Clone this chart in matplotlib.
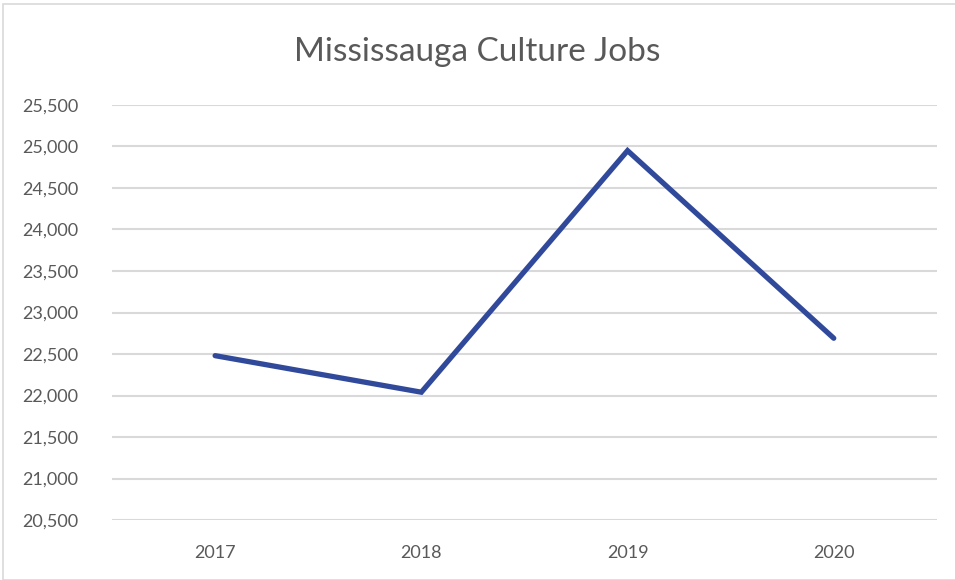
import matplotlib.pyplot as plt
from matplotlib.patches import Rectangle
from matplotlib.ticker import FuncFormatter

years = ["2017", "2018", "2019", "2020"]
jobs = [22480, 22040, 24950, 22690]
y_ticks = list(range(20500, 25501, 500))

plt.rcParams['font.family'] = ['Lato', 'DejaVu Sans']

fig = plt.figure(figsize=(9.55, 5.8), dpi=100)
fig.patches.append(Rectangle((0.003, 0.0), 1.2, 0.993, transform=fig.transFigure,
                             fill=False, edgecolor='#d9d9d9', linewidth=1.2))

ax = fig.add_axes([0.1173, 0.1034, 0.8637, 0.7156])
x = list(range(len(years)))
ax.plot(x, jobs, color='#30499b', linewidth=3.8, solid_capstyle='round',
        solid_joinstyle='miter', zorder=3)

ax.set_xlim(-0.5, len(years) - 0.5)
ax.set_ylim(y_ticks[0], y_ticks[-1])
ax.set_yticks(y_ticks)
ax.yaxis.set_major_formatter(FuncFormatter(lambda v, p: f"{int(v):,}"))
ax.set_xticks(x)
ax.set_xticklabels(years)
ax.grid(axis='y', color='#d9d9d9', linewidth=1.5)
ax.set_axisbelow(True)
for s in ax.spines.values():
    s.set_visible(False)
ax.tick_params(length=0, labelsize=13, labelcolor='#595959')
ax.tick_params(axis='y', pad=24)
ax.tick_params(axis='x', pad=18)

fig.text(0.5, 0.91, "Mississauga Culture Jobs", ha='center', va='center',
         fontsize=24, color='#595959')

fig.savefig("out.png", dpi=100)
